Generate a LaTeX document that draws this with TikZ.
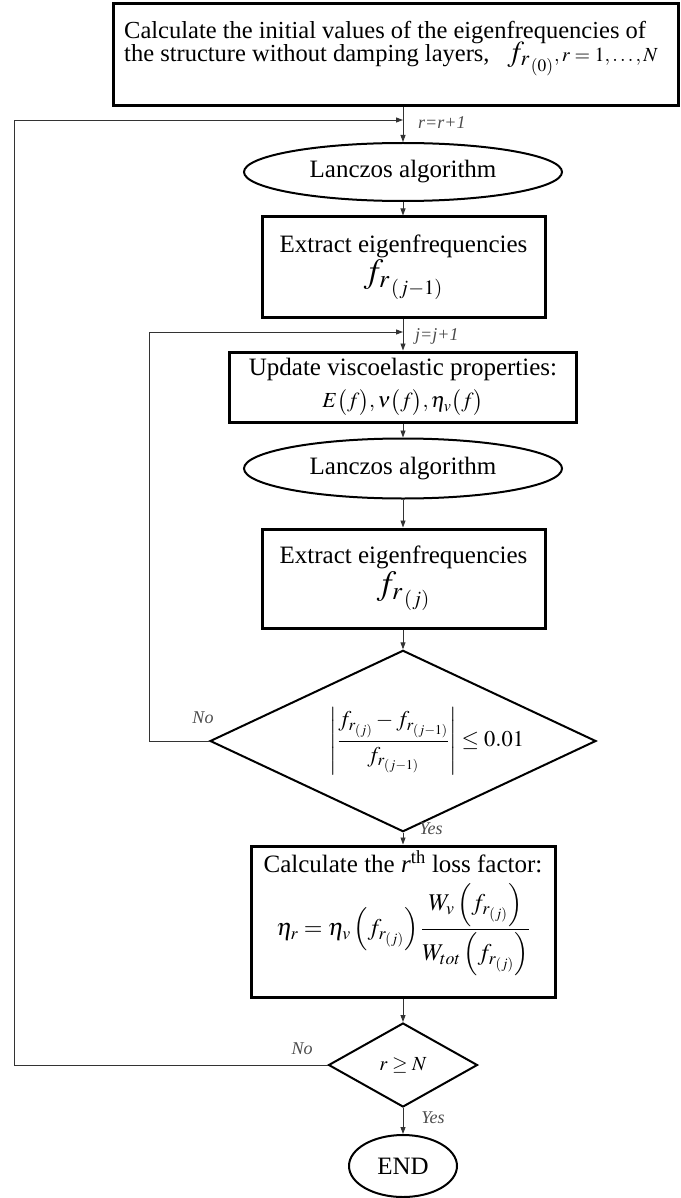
\documentclass[tikz,border=0pt]{standalone}
\usepackage{amsmath}
\usepackage{mathptmx}
\usepackage{fontspec}
\setmainfont{Liberation Serif}
\usetikzlibrary{shapes.geometric,arrows.meta,calc}
\begin{document}
\begin{tikzpicture}[x=1pt,y=-1pt,
  conn/.style={draw=black!80, line width=0.9pt, -{Triangle[length=7pt,width=5pt]}},
  procbox/.style={draw, line width=3pt, rectangle, inner sep=0pt, align=center,
    font=\fontsize{25}{28}\selectfont},
  oval/.style={draw, line width=2pt, ellipse, inner sep=0pt,
    font=\fontsize{25}{28}\selectfont},
  decision/.style={draw, line width=2pt, diamond, inner sep=0pt},
  lbl/.style={text=black!70, font=\fontsize{18}{20}\selectfont\itshape, inner sep=0pt},
]
\useasboundingbox (0,0) rectangle (680,1198);

% top box
\node[draw, line width=3pt, rectangle, minimum width=565.5pt, minimum height=102pt, inner sep=0pt]
  (top) at (395.75,55) {};
\node[anchor=north west, align=left, inner sep=0pt, font=\fontsize{24.5}{24}\selectfont]
  (toptext) at (124,21) {Calculate the initial values of the eigenfrequencies of\\[-3pt]
  the structure without damping layers,\hspace{18pt}{\fontsize{29}{24}\selectfont$f_{r_{\,(0)}}$}{\fontsize{20}{24}\selectfont$,r=1,\ldots,N$}};

\node[oval, minimum width=318pt, minimum height=58pt] (e1) at (403,172) {Lanczos algorithm};
\node[procbox, minimum width=283pt, minimum height=100pt] (x1) at (403.5,267)
  {Extract eigenfrequencies\\[1pt]{\fontsize{34}{36}\selectfont$f_{r_{\,(j-1)}}$}};
\node[procbox, minimum width=347pt, minimum height=70pt] (u) at (403,387)
  {Update viscoelastic properties:\\[4pt]{\fontsize{21.5}{24}\selectfont$E\bigl(f\bigr),\nu\bigl(f\bigr),\eta_v\bigl(f\bigr)$}};
\node[oval, minimum width=318pt, minimum height=60pt] (e2) at (403,468.5) {Lanczos algorithm};
\node[procbox, minimum width=283pt, minimum height=99pt] (x2) at (403.5,578.5)
  {Extract eigenfrequencies\\[1pt]{\fontsize{34}{36}\selectfont$f_{r_{\,(j)}}$}};
\node[decision, minimum width=332pt, minimum height=156pt, shape aspect=2.128] (d1) at (403,741)
  {\hspace*{48pt}{\fontsize{22.5}{26}\selectfont$\displaystyle\left|\frac{f_{r_{(j)}}-f_{r_{(j-1)}}}{f_{r_{(j-1)}}}\right|\le 0.01$}};
\node[procbox, minimum width=304pt, minimum height=151pt] (c) at (403,921.5)
  {Calculate the \textit{r}\textsuperscript{th} loss factor:\\[9pt]
  {\fontsize{24}{26}\selectfont$\eta_r=\eta_v\left(f_{r_{(j)}}\right)\dfrac{W_v\left(f_{r_{(j)}}\right)}{W_{tot}\left(f_{r_{(j)}}\right)}$}\\[15pt]\mbox{}};
\node[decision, minimum width=149pt, minimum height=84pt, shape aspect=1.77] (d2) at (403,1065)
  {\fontsize{20}{22}\selectfont$r\ge N$};
\node[oval, minimum width=108pt, minimum height=62pt] (fin) at (403,1166) {END};

% coordinates of loop corners
\coordinate (rj) at (403,120);
\coordinate (rL) at (14,120);
\coordinate (jj) at (403,332);
\coordinate (jL) at (149,332);

% main flow
\draw[conn] (e1.north |- top.south) -- (e1.north);
\draw[conn] (e1) -- (x1.north -| e1.south);
\draw[conn] (x1.south -| e1.south) -- (u.north -| e1.south);
\draw[conn] (u.south -| e1.south) -- (e2);
\draw[conn] (e2) -- (x2.north -| e2.south);
\draw[conn] (x2.south -| e2.south) -- (d1);
\draw[conn] (d1) -- (c);
\draw[conn] (c) -- (d2);
\draw[conn] (d2) -- (fin);

% loops
\draw[conn] (d1.west) -| (jL) -- (jj);
\draw[conn] (d2.west) -| (rL) -- (rj);

% labels
\node[lbl, anchor=west] (lr) at (418,123) {r=r+1};
\node[lbl, anchor=west] (lj) at (415,336) {j=j+1};
\node[lbl] (no1) at (203,718) {No};
\node[lbl] (yes1) at (431,829) {Yes};
\node[lbl] (no2) at (302,1049) {No};
\node[lbl] (yes2) at (433,1118) {Yes};
\end{tikzpicture}
\end{document}
